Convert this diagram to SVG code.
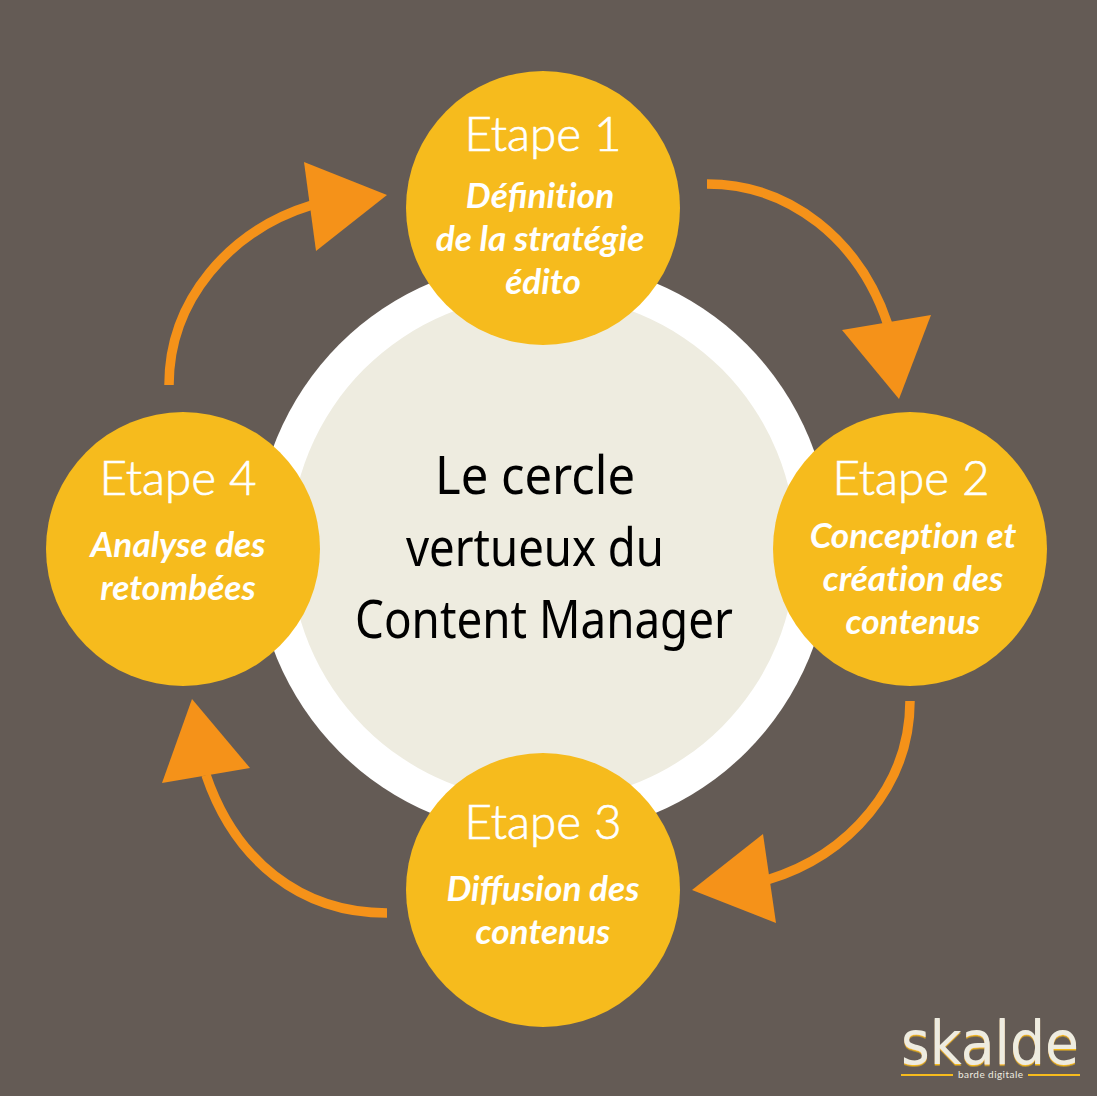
<svg xmlns="http://www.w3.org/2000/svg" width="1097" height="1096" viewBox="0 0 1097 1096">
<defs>
<filter id="goldEdge" x="-10%" y="-20%" width="120%" height="140%">
<feDropShadow dx="0" dy="1.5" stdDeviation="0.2" flood-color="#f6bb1d"/>
</filter>
</defs>
<style>
.n{fill:#f6bb1d}
.h{font:300 47.5px Lato,"Liberation Sans",sans-serif;fill:#fff;stroke:#fff;stroke-width:.7;text-anchor:middle}
.s{font:italic 700 35.2px Lato,"Liberation Sans",sans-serif;fill:#fff;text-anchor:middle;font-variant-ligatures:none}
.lg{font-variant-ligatures:normal}
.c{font:400 52px "Noto Sans","Liberation Sans",sans-serif;fill:#000;text-anchor:middle}
.a{fill:none;stroke:#f59219;stroke-width:9.5}
.t{fill:#f59219}
</style>
<rect width="1097" height="1096" fill="#645b55"/>
<g id="center">
<circle cx="543" cy="548" r="288" fill="#fff"/>
<circle cx="543" cy="548" r="253" fill="#eeece0"/>
<text class="c" x="535" y="494" textLength="200" lengthAdjust="spacingAndGlyphs">Le cercle</text>
<text class="c" x="535" y="566" textLength="258" lengthAdjust="spacingAndGlyphs">vertueux du</text>
<text class="c" x="544" y="638" textLength="378" lengthAdjust="spacingAndGlyphs">Content Manager</text>
</g>
<g id="connectors">
<path class="a" d="M707 184C790 184 860 240 888 325"/>
<polygon class="t" points="842,330 931,315 899,399"/>
<path class="a" d="M910 701C910 785 850 855 767 880"/>
<polygon class="t" points="763,834 776,923 692,890"/>
<path class="a" d="M387 913C300 913 235 860 206 775"/>
<polygon class="t" points="250,768 162,783 192,699"/>
<path class="a" d="M169 385C169 300 230 230 312 205"/>
<polygon class="t" points="316,251 304,162 387,195"/>
</g>
<g id="etape1">
<circle class="n" cx="543" cy="208" r="137"/>
<text class="h" x="543" y="151">Etape 1</text>
<text class="s" x="540" y="208">Dé<tspan class="lg">fi</tspan>nition</text>
<text class="s" x="540" y="251">de la stratégie</text>
<text class="s" x="543" y="294">édito</text>
</g>
<g id="etape2">
<circle class="n" cx="910" cy="549" r="137"/>
<text class="h" x="911" y="495">Etape 2</text>
<text class="s" x="913" y="548">Conception et</text>
<text class="s" x="913" y="591">création des</text>
<text class="s" x="913" y="634">contenus</text>
</g>
<g id="etape3">
<circle class="n" cx="543" cy="890" r="137"/>
<text class="h" x="543" y="839">Etape 3</text>
<text class="s lg" x="543" y="901">Diffusion des</text>
<text class="s" x="543" y="944">contenus</text>
</g>
<g id="etape4">
<circle class="n" cx="183" cy="549" r="137"/>
<text class="h" x="178" y="495">Etape 4</text>
<text class="s" x="178" y="557">Analyse des</text>
<text class="s" x="178" y="600">retombées</text>
</g>
<g id="logo">
<text x="990" y="1064" font-family="'DejaVu Sans',sans-serif" font-size="60" fill="#eeece0" text-anchor="middle" textLength="178" lengthAdjust="spacingAndGlyphs" filter="url(#goldEdge)">skalde</text>
<rect x="901" y="1074" width="52" height="2" fill="#f6bb1d"/>
<rect x="1028" y="1074" width="52" height="2" fill="#f6bb1d"/>
<text x="990.5" y="1078" font-family="Lato,sans-serif" font-size="10" fill="#eeece0" text-anchor="middle" textLength="65">barde digitale</text>
</g>
</svg>
